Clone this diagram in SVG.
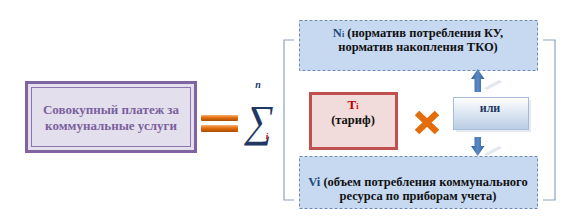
<svg xmlns="http://www.w3.org/2000/svg" width="575" height="224" viewBox="0 0 575 224" font-family="Liberation Serif, serif">
<defs>
<linearGradient id="gOr" x1="0" y1="0" x2="0" y2="1">
<stop offset="0" stop-color="#f7b27a"/><stop offset="0.45" stop-color="#e46c0a"/><stop offset="1" stop-color="#a84f06"/>
</linearGradient>
<linearGradient id="gIli" x1="0" y1="0" x2="0" y2="1">
<stop offset="0" stop-color="#ffffff"/><stop offset="1" stop-color="#b9cde5"/>
</linearGradient>
<linearGradient id="gArr" x1="0" y1="0" x2="1" y2="0">
<stop offset="0" stop-color="#2f5f9a"/><stop offset="0.5" stop-color="#5b8bc6"/><stop offset="1" stop-color="#2f5f9a"/>
</linearGradient>
</defs>
<style>
text{font-family:"Liberation Serif","Times New Roman",serif;font-weight:bold;text-anchor:middle}
.lbl{font-size:13px;fill:#7a61a0}
.blk{font-size:12.5px;fill:#111}
.dash{fill:#c6d9f1;stroke:#6b8cba;stroke-width:1;stroke-dasharray:3,2}
.brk{fill:none;stroke:#8ea2c0;stroke-width:1.2}
.arr{fill:url(#gArr)}
.refl{fill:#e3e8ee}
</style>
<rect width="575" height="224" fill="#ffffff"/>

<g id="total">
<rect x="26.5" y="82.5" width="169" height="69" fill="#e4dfec" stroke="#8064a2" stroke-width="3"/>
<rect x="31.5" y="87.5" width="159" height="59" fill="none" stroke="#8c74ad" stroke-width="1"/>
<text class="lbl" x="111" y="114">Совокупный платеж за</text>
<text class="lbl" x="111" y="130">коммунальные услуги</text>
</g>

<g id="equals">
<rect x="201" y="115" width="37" height="6" rx="1" fill="url(#gOr)"/>
<rect x="201" y="125" width="37" height="7" rx="1" fill="url(#gOr)"/>
</g>

<g id="sum">
<text x="258" y="88" font-size="10" font-style="italic" fill="#1f3864">n</text>
<text transform="translate(244,135.5) skewX(-10) scale(1.15,1.3)" x="0" y="0" font-size="34" fill="#1f3864" style="font-weight:normal;text-anchor:start">∑</text>
<text x="267" y="139" font-size="9" font-style="italic" fill="#c00000">i</text>
</g>

<g id="brackets">
<path class="brk" d="M294,40 H284 V200 H294"/>
<path class="brk" d="M543,40 H555 V200 H543"/>
</g>

<g id="norm">
<rect class="dash" x="299.5" y="20.5" width="238" height="50"/>
<text class="blk" x="418" y="37"><tspan fill="#1f497d">N</tspan><tspan fill="#1f497d" font-size="8">i</tspan> (норматив потребления КУ,</text>
<text class="blk" x="418" y="51">норматив накопления ТКО)</text>
</g>

<g id="tariff">
<rect x="310.5" y="93.5" width="86" height="55" fill="#f2dcdb" stroke="#c0504d" stroke-width="3"/>
<text x="353" y="109" font-size="13" fill="#c00000">T<tspan font-size="8">i</tspan></text>
<text class="blk" x="353" y="124">(тариф)</text>
</g>

<g id="times">
<path d="M417,113 L437,132 M437,113 L417,132" stroke="#e46c0a" stroke-width="6.5"/>
</g>

<g id="ili">
<rect x="456" y="100" width="75" height="32" fill="#e6e9ee"/>
<rect x="453.5" y="97.5" width="75" height="32" fill="url(#gIli)" stroke="#a6bcd9" stroke-width="1"/>
<text x="490" y="112" font-size="12" fill="#1f3864">или</text>
</g>

<g id="volume">
<rect class="dash" x="299.5" y="156.5" width="238" height="52"/>
<text class="blk" x="418" y="186"><tspan fill="#1f497d">Vi</tspan> (объем потребления коммунального</text>
<text class="blk" x="418" y="200">ресурса по приборам учета)</text>
</g>

<g id="connectors">
<polygon class="refl" points="484,88 499,80 502,82 487,90"/>
<polygon class="arr" points="474.5,92 481,92 481,79 484.5,79 477.7,69 471,79 474.5,79"/>
<polygon class="refl" points="484,154 499,146 502,148 487,156"/>
<polygon class="arr" points="474.5,137 481,137 481,146 484.5,146 477.7,156 471,146 474.5,146"/>
</g>
</svg>
